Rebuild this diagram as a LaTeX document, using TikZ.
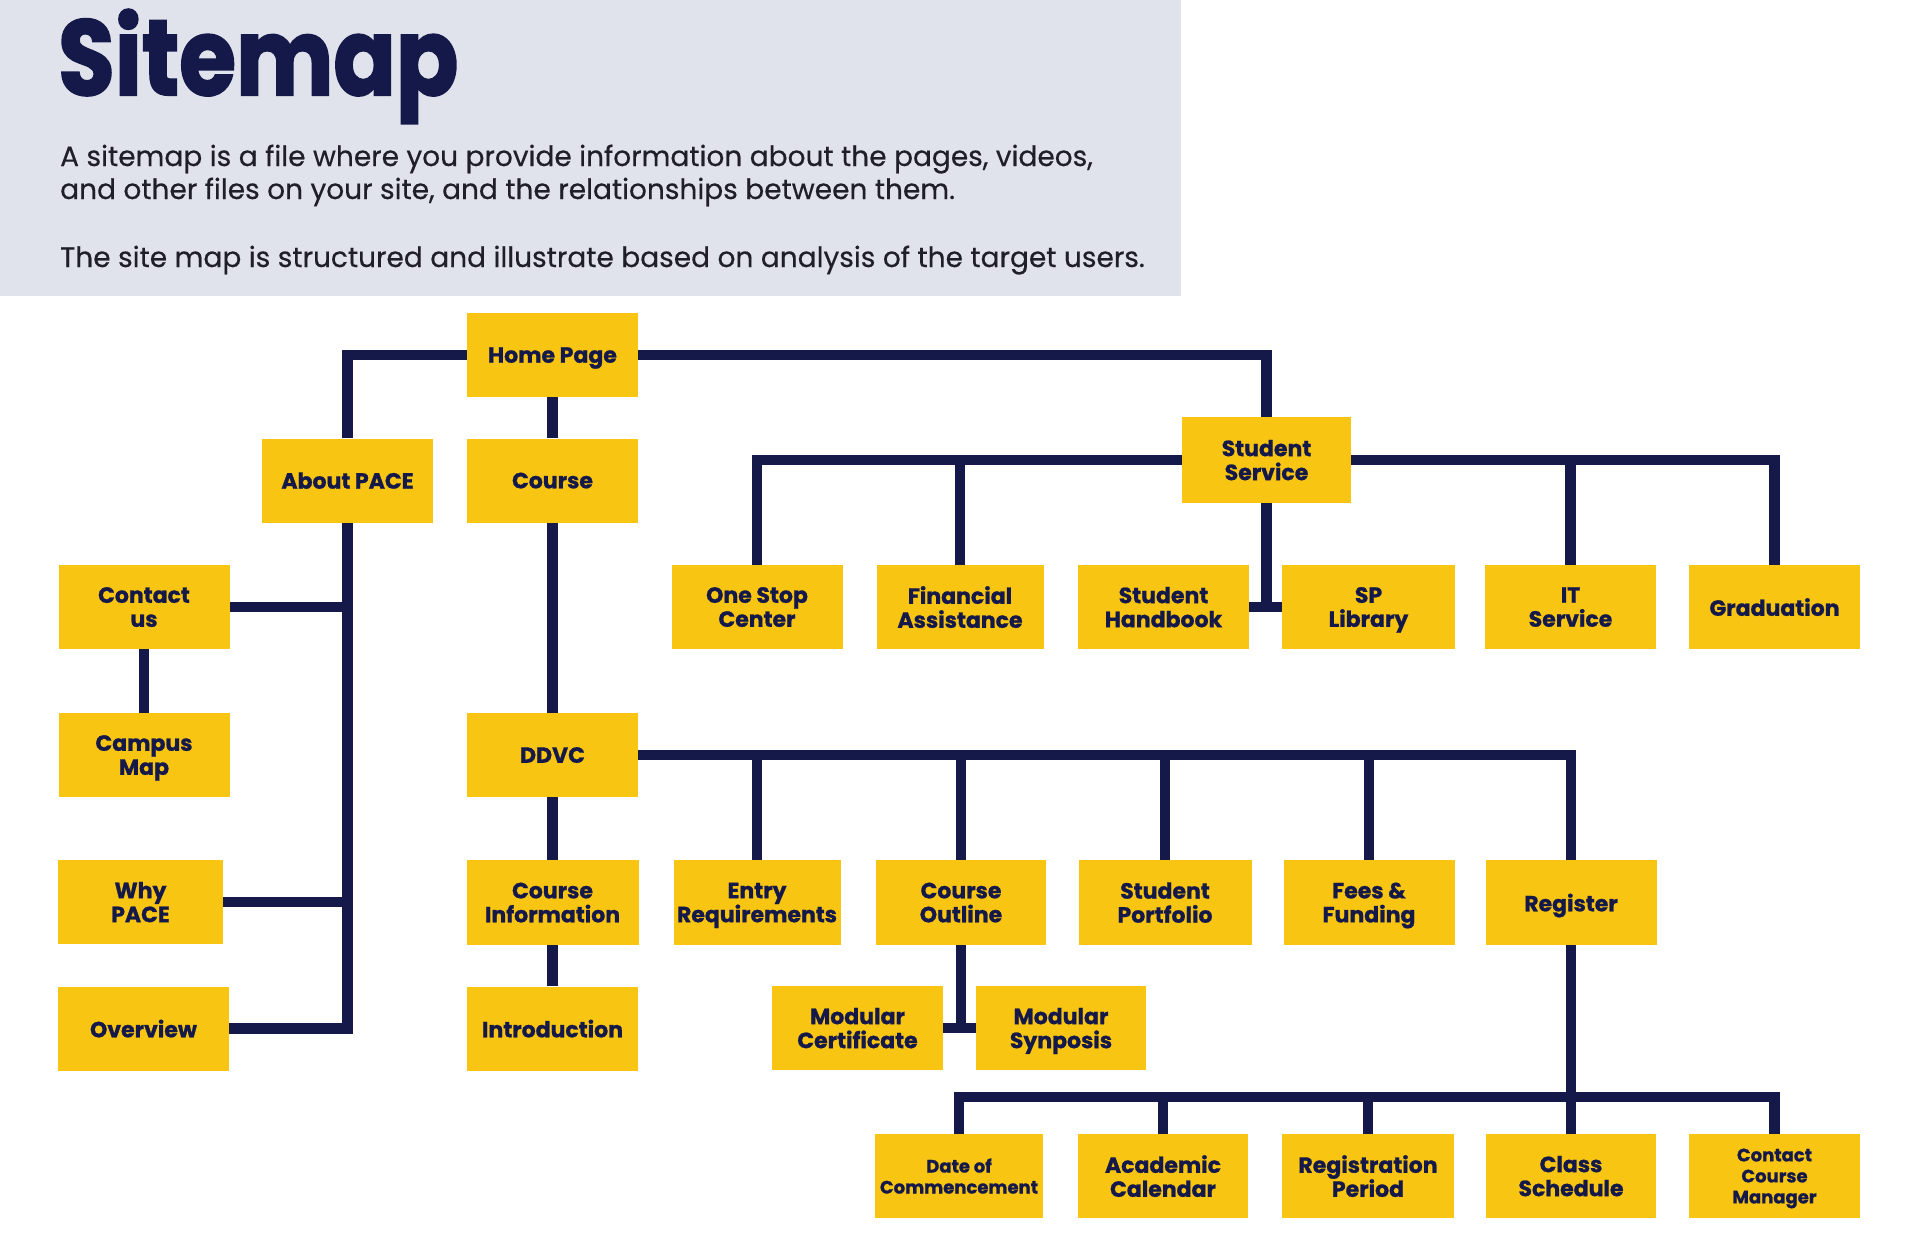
\documentclass[tikz,border=0pt]{standalone}
\usepackage{fontspec}
\setmainfont{Poppins}
\newfontfamily\heavyfont{Poppins Bold}[FakeBold=1.0]
\newfontfamily\titlefont{Poppins Bold}[FakeBold=2.0]
\newfontfamily\parafont{Poppins}[FakeBold=0.35]
\usetikzlibrary{backgrounds}
\definecolor{navy}{HTML}{14194A}
\definecolor{gold}{HTML}{F9C513}
\definecolor{paper}{HTML}{E0E3EB}
\definecolor{ink}{HTML}{1E1F28}
\begin{document}
\begin{tikzpicture}[x=1pt,y=-1pt,
  box/.style={fill=gold, text=navy, font=\fontsize{22}{24}\selectfont\heavyfont, align=center,
    inner sep=0pt, text depth=0pt, minimum width=171pt, minimum height=84pt},
  smallbox/.style={box, font=\fontsize{18}{21}\selectfont\heavyfont},
  link/.style={draw=navy, line width=10.5pt, line join=miter},
  para/.style={anchor=base west, inner sep=0pt, text=ink, font=\fontsize{28}{33}\selectfont\parafont}]
\useasboundingbox (0,0) rectangle (1920,1245);
\begin{pgfonlayer}{background}
  \fill[white] (0,0) rectangle (1920,1245);
  \fill[paper] (0,0) rectangle (1181,296);
\end{pgfonlayer}

% header
\node[anchor=base west, inner sep=0pt, text=navy, font=\fontsize{107}{107}\selectfont\titlefont] (title) at (58,95) {\scalebox{0.86}[1]{Sitemap}};
\node[para] (p1) at (60,166) {A sitemap is a file where you provide information about the pages, videos,};
\node[para] (p2) at (60,199) {and other files on your site, and the relationships between them.};
\node[para] (p3) at (60,267) {The site map is structured and illustrate based on analysis of the target users.};

% boxes
\node[box] (home) at (552.5,355) {Home Page};
\node[box] (about) at (347.5,480.5) {About PACE};
\node[box] (course) at (552.5,480.5) {Course};
\node[box, minimum width=169pt, minimum height=86pt] (ss) at (1266.5,460) {Student\\Service};

\node[box] (contact) at (144,607) {Contact\\us};
\node[box] (campus) at (144,755) {Campus\\Map};
\node[box, minimum width=165pt] (why) at (140.5,902) {Why\\PACE};
\node[box] (overview) at (143.5,1028.5) {Overview};

\node[box] (onestop) at (757,607) {One Stop\\Center};
\node[box, minimum width=167pt] (fin) at (960,607) {Financial\\Assistance};
\node[box] (handbook) at (1163.5,607) {Student\\Handbook};
\node[box, minimum width=173pt] (sp) at (1368.5,607) {SP\\Library};
\node[box] (it) at (1570.5,607) {IT\\Service};
\node[box] (grad) at (1774.5,607) {Graduation};

\node[box] (ddvc) at (552.5,755) {DDVC};
\node[box, minimum width=172pt, minimum height=85pt] (cinfo) at (552.5,902.5) {Course\\Information};
\node[box, minimum width=167pt, minimum height=85pt] (entry) at (757,902.5) {Entry\\Requirements};
\node[box, minimum width=170pt, minimum height=85pt] (outline) at (961,902.5) {Course\\Outline};
\node[box, minimum width=173pt, minimum height=85pt] (portfolio) at (1165,902.5) {Student\\Portfolio};
\node[box, minimum height=85pt] (fees) at (1369,902.5) {Fees \&\\Funding};
\node[box, minimum height=85pt] (register) at (1571,902.5) {Register};

\node[box] (intro) at (552.5,1028.5) {Introduction};
\node[box] (modcert) at (857.5,1028) {Modular\\Certificate};
\node[box, minimum width=170pt] (modsyn) at (1061,1028) {Modular\\Synposis};

\node[smallbox, minimum width=168pt] (date) at (959,1176) {Date of\\Commencement};
\node[box, minimum width=170pt] (acad) at (1163,1176) {Academic\\Calendar};
\node[box, minimum width=172pt] (regp) at (1368,1176) {Registration\\Period};
\node[box, minimum width=170pt] (class) at (1571,1176) {Class\\Schedule};
\node[smallbox] (ccm) at (1774.5,1176) {Contact\\Course\\Manager};

\coordinate (rbus) at (1571,1097);

% connectors
\begin{pgfonlayer}{background}
  \draw[link] (home.west) -| (about.north);
  \draw[link] (home.south) -- (course.north);
  \draw[link] (home.east) -| (ss.north);

  \draw[link] (about.south) |- (overview.east);
  \draw[link] (contact.east) -- (contact.east -| about.south);
  \draw[link] (why.east) -- (why.east -| about.south);
  \draw[link] (contact.south) -- (campus.north);

  \draw[link] (onestop.north) |- (ss.west);
  \draw[link] (ss.east) -| (grad.north);
  \draw[link] (fin.north) -- (fin.north |- ss.west);
  \draw[link] (it.north) -- (it.north |- ss.east);
  \draw[link] (ss.south) -- (ss.south |- handbook.east);
  \draw[link] (handbook.east) -- (sp.west);

  \draw[link] (course.south) -- (ddvc.north);
  \draw[link] (ddvc.south) -- (cinfo.north);
  \draw[link] (cinfo.south) -- (intro.north);
  \draw[link] (ddvc.east) -| (register.north);
  \draw[link] (entry.north) -- (entry.north |- ddvc.east);
  \draw[link] (outline.north) -- (outline.north |- ddvc.east);
  \draw[link] (portfolio.north) -- (portfolio.north |- ddvc.east);
  \draw[link] (fees.north) -- (fees.north |- ddvc.east);

  \draw[link] (outline.south) -- (outline.south |- modcert.east);
  \draw[link] (modcert.east) -- (modsyn.west);

  \draw[link] (register.south) -- (class.north);
  \draw[link] (date.north) |- (rbus) -| (ccm.north);
  \draw[link] (acad.north) -- (acad.north |- rbus);
  \draw[link] (regp.north) -- (regp.north |- rbus);
\end{pgfonlayer}
\end{tikzpicture}
\end{document}
